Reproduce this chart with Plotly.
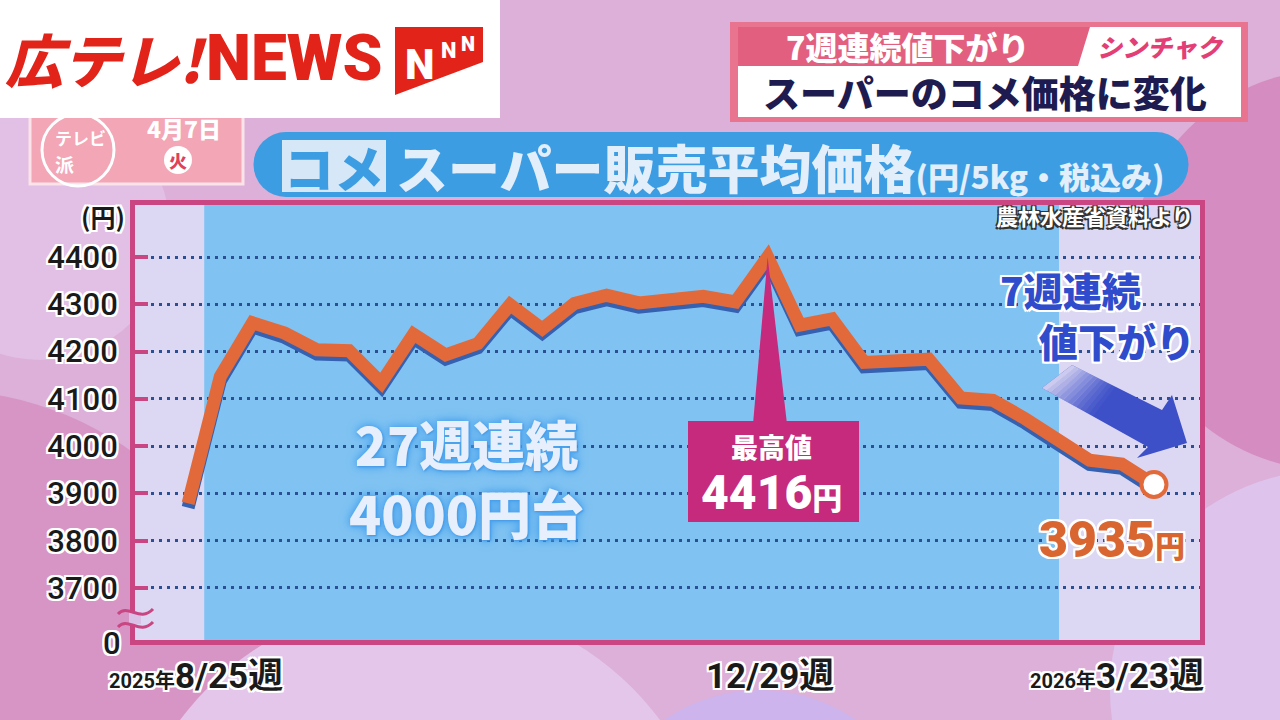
import plotly.graph_objects as go

# ---------------- data ----------------
weeks = ["8/25", "9/1", "9/8", "9/15", "9/22", "9/29", "10/6", "10/13", "10/20", "10/27",
         "11/3", "11/10", "11/17", "11/24", "12/1", "12/8", "12/15", "12/22", "12/29",
         "1/5", "1/12", "1/19", "1/26", "2/2", "2/9", "2/16", "2/23", "3/2", "3/9", "3/16", "3/23"]
prices = [3895, 4163, 4277, 4255, 4220, 4218, 4150, 4253, 4209, 4233,
          4315, 4264, 4318, 4335, 4319, 4326, 4333, 4321, 4416,
          4272, 4285, 4193, 4195, 4200, 4118, 4113, 4074, 4030, 3986, 3978, 3935]
y_ticks = [3700, 3800, 3900, 4000, 4100, 4200, 4300, 4400]
y_ticktext = ["3700", "3800", "3900", "4000", "4100", "4200", "4300", "4400"]
x_label_first = ("2025年", "8/25週")
x_label_mid = "12/29週"
x_label_last = ("2026年", "3/23週")
peak_text = "4416"
last_text = "3935"
streak_lines = ("27週連続", "4000円台")
drop_lines = ("7週連続", "値下がり")

# ---------------- layout geometry ----------------
W, H = 1280, 720
L, R, T, B = 135, 1200, 205, 640
XR = [-1.65, 31.43]
YR = [3590, 4510]
BLUE_X = [0.5, 27.05]
LINE_NUDGE = 16      # the broadcast graphic draws its line slightly below the grid scale
SHADOW_NUDGE = 9     # drop-shadow offset


def px(x):
    return (x - L) / (R - L)


def py(y):
    return (B - y) / (B - T)


def dx(x):
    return XR[0] + (x - L) / (R - L) * (XR[1] - XR[0])


def dy(y):
    return YR[0] + (B - y) / (B - T) * (YR[1] - YR[0])


JP = "Noto Sans CJK JP"
NUM = "Roboto, Noto Sans CJK JP"
WHITE_OUT = "2px 2px 0 #fff, -2px -2px 0 #fff, 2px -2px 0 #fff, -2px 2px 0 #fff, 0 2px 0 #fff, 0 -2px 0 #fff, 2px 0 0 #fff, -2px 0 0 #fff"
DARK_OUT = "1.5px 1.5px 0 #333, -1.5px -1.5px 0 #333, 1.5px -1.5px 0 #333, -1.5px 1.5px 0 #333"

ORANGE = "#e2693a"
PINK = "#c94682"

fig = go.Figure()
# blue drop shadow (drawn on a shifted overlay axis), then the orange line on top
fig.add_trace(go.Scatter(x=weeks, y=prices, mode="lines", yaxis="y2",
                         line=dict(color="#3561b0", width=13), hoverinfo="skip"))
fig.add_trace(go.Scatter(x=weeks, y=prices, mode="lines", yaxis="y3",
                         line=dict(color=ORANGE, width=13), hoverinfo="skip"))
fig.add_trace(go.Scatter(x=[weeks[-1]], y=[prices[-1]], mode="markers", yaxis="y3", hoverinfo="skip",
                         marker=dict(size=25, color="white", line=dict(color=ORANGE, width=4))))

shapes = []


def rect(x0, y0, x1, y1, fill, line=None, lw=0, layer="below"):
    shapes.append(dict(type="rect", xref="paper", yref="paper", x0=px(x0), x1=px(x1),
                       y0=py(y1), y1=py(y0), fillcolor=fill, layer=layer,
                       line=dict(color=line or fill, width=lw)))


def circ(cx, cy, r, fill, line=None, lw=0, layer="below"):
    shapes.append(dict(type="circle", xref="paper", yref="paper", x0=px(cx - r), x1=px(cx + r),
                       y0=py(cy + r), y1=py(cy - r), fillcolor=fill, layer=layer,
                       line=dict(color=line or fill, width=lw)))


def poly(points, fill, layer="below", opacity=1.0, line=None, lw=0):
    path = "M" + " L".join(f"{px(x):.5f},{py(y):.5f}" for x, y in points) + " Z"
    shapes.append(dict(type="path", xref="paper", yref="paper", path=path, fillcolor=fill,
                       layer=layer, opacity=opacity, line=dict(color=line or fill, width=lw)))


def curve(d_pixels, color, width, layer="above"):
    shapes.append(dict(type="path", xref="paper", yref="paper", path=d_pixels, layer=layer,
                       line=dict(color=color, width=width)))


# background decoration
rect(-10, -10, W + 10, H + 10, "#dcb0d8")
circ(-60, 720, 330, "#d795c6")
circ(420, 900, 300, "#e4c6ea")
circ(760, 860, 170, "#cdb4ec")
circ(1330, 270, 200, "#d58cc0")
circ(1330, 690, 220, "#dec4ec")
circ(40, 230, 130, "#e2bfe4")

# plot interior
rect(L, T, R, B, "#dcd8f3")
shapes.append(dict(type="rect", xref="x", yref="paper", x0=BLUE_X[0], x1=BLUE_X[1], y0=0, y1=1,
                   fillcolor="#80c3f2", line=dict(width=0), layer="below"))

# date badge
rect(30, 90, 243, 184, "#f2a6b6", line="#fbe3ea", lw=3)
circ(78, 150, 36, "rgba(0,0,0,0)", line="white", lw=3)
circ(178, 160, 14, "white")

# logo box
rect(0, 0, 500, 118, "white")
poly([(395, 27), (483, 27), (483, 62), (395, 95)], "#e2231a")

# caption top-right
rect(730, 22, 1248, 122, "#e8748f")
rect(738, 27, 1241, 117, "white")
poly([(738, 27), (1090, 27), (1078, 66), (738, 66)], "#e35f80")

# title pill
rect(286, 132, 1156, 197, "#3c9de2")
circ(286, 164.5, 32.5, "#3c9de2")
circ(1156, 164.5, 32.5, "#3c9de2")
rect(282, 140, 386, 192, "#d6e7f8")

# peak callout (above the line), apex on the drawn peak
apex = prices[18] - LINE_NUDGE
shapes.append(dict(type="path", xref="x", yref="y", layer="above", fillcolor="#c62a7c",
                   line=dict(color="#c62a7c", width=0),
                   path=(f"M{dx(753):.4f},{dy(424):.3f} L18,{apex} "
                         f"L{dx(787):.4f},{dy(424):.3f} Z")))
rect(688, 421, 859, 522, "#c62a7c", layer="above")

# arrow
poly([(1072, 365), (1162, 410), (1172, 395), (1187, 443), (1137, 458), (1148, 447), (1042, 388)],
     "#3e50c8", layer="above")
A, Bt = (1072, 365), (1162, 410)
C, Bb = (1042, 388), (1148, 447)


def lerp(p, q, t):
    return (p[0] + (q[0] - p[0]) * t, p[1] + (q[1] - p[1]) * t)


n_fade = 12
for k in range(n_fade):
    t0, t1 = k * 0.04, (k + 1) * 0.04 + 0.002
    op = 0.9 * (1 - k / n_fade) ** 1.3
    poly([lerp(A, Bt, t0), lerp(A, Bt, t1), lerp(C, Bb, t1), lerp(C, Bb, t0)],
         "#dcd8f3", layer="above", opacity=op)

# axis break
rect(129, 612, 141, 624, "#d9c2e6", layer="above")


def P(x, y):
    return f"{px(x):.5f},{py(y):.5f}"


curve(f"M{P(118, 614)} C{P(128, 603)} {P(140, 623)} {P(153, 609)}", PINK, 3)
curve(f"M{P(118, 627)} C{P(128, 616)} {P(140, 636)} {P(153, 622)}", PINK, 3)

annotations = []


def ann(text, x, y, size, color, family=JP, weight="bold", xanchor="center", shadow=None,
        yanchor="middle", style="normal", align="center"):
    annotations.append(dict(text=text, x=px(x), y=py(y), xref="paper", yref="paper",
                            showarrow=False, xanchor=xanchor, yanchor=yanchor, align=align,
                            font=dict(family=family, size=size, color=color, weight=weight,
                                      shadow=shadow or "none", style=style)))


# logo
ann("広テレ!", 106, 58, 58, "#e2231a", weight=900, style="italic")
ann("NEWS", 294, 58, 64, "#e2231a", family="Roboto", weight=900)
ann("N", 420, 64, 42, "white", family="Roboto", weight=900)
ann("N", 448, 50, 22, "white", family="Roboto", weight=900)
ann("N", 468, 44, 20, "white", family="Roboto", weight=900)

# caption
ann("7週連続値下がり", 908, 46, 32, "white", weight=900)
ann("シンチャク", 1160, 46, 25, "#e33f76", weight=900, style="italic")
ann("スーパーのコメ価格に変化", 985, 92, 37, "#1d1b4f", weight=900)

# date badge
ann("4月7日", 184, 128, 23, "white", weight=900)
ann("火", 178, 160, 18, "#e0405a", weight=900)
ann("テレビ", 80, 137, 17, "white", weight=700)
ann("派", 64, 163, 19, "white", weight=700)

# title
ann("コメ", 334, 166, 50, "#3c9de2", weight=900)
ann("スーパー販売平均価格<span style='font-size:31px'>(円/5kg・税込み)</span>", 394, 166, 52,
    "#e3eefb", weight=900, xanchor="left")
ann("農林水産省資料より", 1196, 215, 22, "white", weight=700, xanchor="right", shadow=DARK_OUT)

# axis extras
ann("(円)", 103, 216, 25, "#1a1a1a", weight=700, shadow=WHITE_OUT)
ann("0", 112, 643, 31, "#1a1a1a", family=NUM, weight=500, shadow=WHITE_OUT)

# x labels
ann(f"<span style='font-size:20px'>{x_label_first[0]}</span>{x_label_first[1]}", 196, 676, 35,
    "#1a1a1a", family=NUM, weight=700, shadow=WHITE_OUT)
ann(x_label_mid, 770, 676, 35, "#1a1a1a", family=NUM, weight=700, shadow=WHITE_OUT)
ann(f"<span style='font-size:20px'>{x_label_last[0]}</span>{x_label_last[1]}", 1206, 676, 35,
    "#1a1a1a", family=NUM, weight=700, shadow=WHITE_OUT, xanchor="right")

# in-chart texts
GLOW = "0 0 6px #4aa3ee, 0 0 12px #4aa3ee, 1px 1px 2px #3a8ad8"
ann(f"{streak_lines[0]}<br>{streak_lines[1]}", 466, 478, 53, "#e6effb", weight=900, shadow=GLOW)
ann("最高値", 771, 446, 27, "white", weight=900)
ann(f"{peak_text}<span style='font-size:30px'>円</span>", 771, 492, 48, "white", family=NUM, weight=900)
ann(f"{drop_lines[0]}<br>\u3000{drop_lines[1]}", 998, 314, 39, "#2f4ccc", weight=900,
    shadow=WHITE_OUT, xanchor="left", align="left")
ann(f"{last_text}<span style='font-size:30px'>円</span>", 1112, 540, 50, "#d96530", family=NUM,
    weight=900, shadow=WHITE_OUT)

fig.update_layout(
    width=W, height=H, autosize=False,
    margin=dict(l=L, r=W - R, t=T, b=H - B, pad=0),
    paper_bgcolor="#dcb0d8", plot_bgcolor="rgba(0,0,0,0)",
    showlegend=False, hovermode=False,
    shapes=shapes, annotations=annotations,
    xaxis=dict(type="category", range=XR, showgrid=False, showticklabels=False, ticks="",
               showline=True, linecolor=PINK, linewidth=5, mirror=True, zeroline=False,
               automargin=False, fixedrange=True),
    yaxis=dict(range=YR, tickvals=y_ticks, ticktext=y_ticktext, ticks="inside", ticklen=13,
               tickwidth=4, tickcolor=PINK, showline=True, linecolor=PINK, linewidth=5,
               mirror=True, showgrid=True, gridcolor="#2b4f92", gridwidth=2.5,
               griddash="3px,5px", zeroline=False, automargin=False, ticklabelstandoff=6,
               tickfont=dict(family=NUM, size=31, color="#1a1a1a", weight=500, shadow=WHITE_OUT),
               fixedrange=True),
    yaxis2=dict(range=[YR[0] + LINE_NUDGE + SHADOW_NUDGE, YR[1] + LINE_NUDGE + SHADOW_NUDGE],
                overlaying="y", visible=False, fixedrange=True),
    yaxis3=dict(range=[YR[0] + LINE_NUDGE, YR[1] + LINE_NUDGE], overlaying="y", visible=False,
                fixedrange=True),
)

fig.write_html("out.html", config={"displayModeBar": False})
